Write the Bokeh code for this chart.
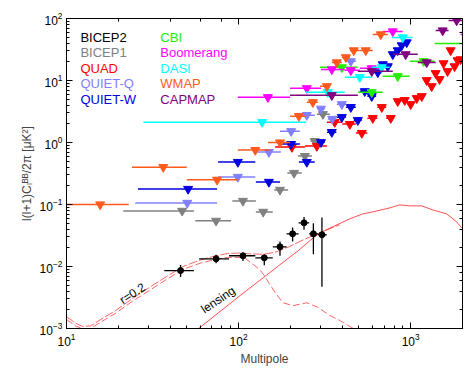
from bokeh.plotting import figure
from bokeh.models import LogAxis, CustomJSTickFormatter
from bokeh.embed import file_html
from bokeh.resources import INLINE
from bokeh.core.properties import value

# ---------------- data ----------------
bicep2_l = [46, 74, 106, 141, 174, 206, 240, 272, 305]
bicep2_lo = [37, 59, 88, 125, 158, 190, 223, 257, 290]
bicep2_hi = [55, 88, 125, 158, 190, 223, 257, 290, 325]
bicep2_v = [0.0086, 0.0133, 0.0149, 0.0138, 0.0208, 0.0337, 0.0506, 0.0337, 0.0325]
bicep2_elo = [0.0068, 0.0113, 0.0123, 0.0105, 0.0149, 0.0252, 0.0391, 0.0158, 0.0047]
bicep2_ehi = [0.0106, 0.0154, 0.0167, 0.0154, 0.0252, 0.0425, 0.0627, 0.0500, 0.0615]

bicep1_l = [47, 74, 106, 139, 174, 210, 243, 277, 309]
bicep1_lo = [21.4, 56, 92, 126, 161, 192, 221, 262, 285]
bicep1_hi = [55, 90.5, 126, 158, 194, 233, 267, 305, 339]
bicep1_ul = [0.0789, 0.0545, 0.114, 0.076, 0.172, 0.322, 0.604, 1.05, 2.86]

quad_l = [204, 285, 362, 443, 520, 602, 679, 766, 841, 923, 1000, 1084, 1159,
          1239, 1324, 1396, 1472, 1553, 1638, 1706, 1799, 1873, 1950]
quad_lo = [163, 243, 326, 400, 480, 560, 640, 720, 805, 880, 960, 1040, 1120,
           1200, 1280, 1350, 1430, 1510, 1590, 1670, 1750, 1830, 1910]
quad_hi = [243, 326, 400, 480, 560, 640, 720, 800, 880, 960, 1040, 1120, 1200,
           1280, 1360, 1440, 1520, 1600, 1680, 1760, 1840, 1920, 2000]
quad_ul = [0.843, 0.875, 2.13, 1.98, 1.42, 2.47, 3.71, 2.47, 4.63, 4.81, 4.14, 5.18, 5.57,
           10.1, 8.07, 13.1, 10.5, 18.9, 14.1, 30.6, 16.9, 21.1, 21.9]

quietq_l = [50.3, 99, 150, 202, 249, 301, 350, 398, 449]
quietq_lo = [25.1, 76, 128, 174, 227, 285, 330, 372, 420]
quietq_hi = [75, 125, 176, 227, 277, 317, 370, 420, 480]
quietq_ul = [0.106, 0.278, 0.70, 1.52, 2.76, 3.5, 2.4, 4.14, 20.4]

quietw_l = [50.9, 99, 150, 202, 249, 301, 348, 398, 449, 493, 541, 594, 644, 688,
            736, 787, 841, 887, 948]
quietw_lo = [26, 76, 126, 174, 224, 285, 326, 372, 420, 467, 506, 560, 610, 660,
             705, 755, 805, 860, 910]
quietw_hi = [75, 125, 174, 227, 277, 317, 370, 420, 480, 520, 580, 630, 680, 720,
             770, 820, 875, 915, 985]
quietw_ul = [0.178, 0.484, 0.231, 0.942, 0.484, 1.01, 1.47, 2.56, 3.71, 2.29, 6.70,
             5.57, 13.5, 18.2, 16.9, 26.4, 30.6, 36.8, 41.1]

cbi_l = [398, 594, 841, 1189, 2300]
cbi_lo = [297, 493, 688, 987, 1377]
cbi_hi = [493, 688, 987, 1377, 3500]
cbi_ul = [16.3, 6.46, 11.7, 20.4, 39.6]

boom_l = [148, 249, 348, 449, 594, 787, 2100]
boom_lo = [99, 199, 301, 414, 506, 688, 1950]
boom_hi = [199, 301, 414, 506, 688, 899, 2300]
boom_ul = [5.37, 7.5, 15.1, 14.6, 15.7, 61.8, 55]

dasi_l = [137, 330, 506, 679, 899]
dasi_lo = [28, 246, 414, 594, 776]
dasi_hi = [246, 414, 594, 755, 1027]
dasi_ul = [2.13, 6.46, 11.3, 16.3, 49.5]

wmap_l = [15.7, 36.5, 75, 125, 174, 224, 270, 326, 372, 420, 467, 548, 670]
wmap_lo = [2, 24, 50, 99, 148, 199, 249, 297, 348, 398, 443, 506, 602]
wmap_hi = [23, 50, 99, 152, 199, 246, 289, 339, 398, 443, 506, 602, 736]
wmap_ul = [0.10, 0.40, 0.25, 0.755, 1.0, 2.66, 4.46, 8.07, 19.6, 23.6, 30.6, 30.6, 55.3]

capmap_l = [348, 594, 935, 1239, 1534, 1849]
capmap_lo = [199, 493, 787, 1099, 1396, 1660]
capmap_hi = [493, 787, 1099, 1396, 1660, 2100]
capmap_ul = [5.78, 14.1, 26.4, 19.6, 64.1, 92.9]

# theory curves
lens_l = [57.5, 78, 102, 139, 174, 221, 259, 297, 362, 443, 527, 602, 755, 863,
          987, 1159, 1343, 1618, 1849, 1977]
lens_v = [0.00096, 0.00188, 0.0034, 0.0066, 0.0107, 0.0178, 0.026, 0.0349, 0.0453,
          0.0587, 0.0706, 0.076, 0.0881, 0.0986, 0.095, 0.095, 0.0818, 0.0706, 0.0525, 0.042]

tens_l = [10, 11.3, 12.4, 13.8, 15.7, 19.2, 24.4, 30.7, 38.5, 47.6, 59.8, 73, 86,
          108, 133, 142, 163, 181, 207, 249, 289, 339, 387, 464, 506]
tens_v = [0.00140, 0.00110, 0.00098, 0.00100, 0.00125, 0.00175, 0.0028, 0.0042,
          0.0063, 0.0090, 0.0113, 0.0130, 0.0140, 0.0139, 0.0089, 0.0069, 0.0038,
          0.0026, 0.00234, 0.0026, 0.0022, 0.00162, 0.00135, 0.00100, 0.0009]

sum_l = [10, 11.3, 12.4, 13.8, 15.7, 19.2, 24.4, 30.7, 38.5, 47.6, 59.8, 73, 86,
         102, 117, 139, 163, 198, 228, 260, 297, 340, 387]
sum_v = [0.00155, 0.00122, 0.00108, 0.00110, 0.00138, 0.00193, 0.0031, 0.0047,
         0.0070, 0.0100, 0.0127, 0.0148, 0.0162, 0.0165, 0.0160, 0.0157, 0.0170,
         0.0210, 0.0255, 0.0300, 0.0350, 0.0410, 0.0470]

legend_names = ["BICEP2", "BICEP1", "QUAD", "QUIET-Q", "QUIET-W",
                "CBI", "Boomerang", "DASI", "WMAP", "CAPMAP"]
legend_colors = ["#000000", "#808080", "#FF0000", "#8080FF", "#0000E0",
                 "#22EE00", "#FF00FF", "#00FFFF", "#FF5A1E", "#800080"]

FONT = "Liberation Sans"

p = figure(width=464, height=368, x_axis_type="log", y_axis_type="log",
           x_range=(10, 2000), y_range=(1e-3, 1e2),
           output_backend="svg", toolbar_location=None,
           min_border_left=66, min_border_right=2, min_border_top=18,
           min_border_bottom=39)
p.grid.visible = False
p.outline_line_color = "black"
p.background_fill_color = "white"


def style_axis(ax):
    ax.major_tick_in = 6
    ax.major_tick_out = 0
    ax.minor_tick_in = 3
    ax.minor_tick_out = 0
    ax.axis_line_color = "black"
    ax.major_tick_line_color = "black"
    ax.minor_tick_line_color = "black"
    ax.major_label_text_font = FONT
    ax.major_label_text_color = "black"
    ax.major_label_text_font_size = "12px"
    ax.major_label_standoff = 4


style_axis(p.xaxis[0])
style_axis(p.yaxis[0])
p.xaxis.axis_label = "Multipole"
p.yaxis.axis_label = "l(l+1)C\u2097\u1d2e\u1d2e/2\u03c0 [\u03bcK\u00b2]"
for ax in (p.xaxis[0], p.yaxis[0]):
    ax.axis_label_text_font = FONT
    ax.axis_label_text_font_size = "12px"
    ax.axis_label_text_font_style = "normal"
    ax.axis_label_standoff = 3

top = LogAxis(formatter=CustomJSTickFormatter(code="return ''"))
right = LogAxis(formatter=CustomJSTickFormatter(code="return ''"))
for ax in (top, right):
    style_axis(ax)
    ax.major_label_text_font_size = "1px"
    ax.major_label_standoff = 0
p.add_layout(top, "above")
p.add_layout(right, "right")

# curves
curve_col = "#FF3030"
p.line(lens_l, lens_v, line_color=curve_col, line_width=1, line_alpha=0.85)
p.line(tens_l, tens_v, line_color=curve_col, line_width=1, line_alpha=0.75, line_dash="7 3")
p.line(sum_l, sum_v, line_color=curve_col, line_width=1, line_alpha=0.75, line_dash="9 2")

# upper limits
series = [
    (bicep1_l, bicep1_lo, bicep1_hi, bicep1_ul, legend_colors[1]),
    (quad_l, quad_lo, quad_hi, quad_ul, legend_colors[2]),
    (quietq_l, quietq_lo, quietq_hi, quietq_ul, legend_colors[3]),
    (quietw_l, quietw_lo, quietw_hi, quietw_ul, legend_colors[4]),
    (cbi_l, cbi_lo, cbi_hi, cbi_ul, legend_colors[5]),
    (boom_l, boom_lo, boom_hi, boom_ul, legend_colors[6]),
    (dasi_l, dasi_lo, dasi_hi, dasi_ul, legend_colors[7]),
    (wmap_l, wmap_lo, wmap_hi, wmap_ul, legend_colors[8]),
    (capmap_l, capmap_lo, capmap_hi, capmap_ul, legend_colors[9]),
]
for l, lo, hi, ul, c in series:
    p.segment(x0=lo, y0=ul, x1=hi, y1=ul, line_color=c, line_width=1.5)
    p.scatter(l, ul, marker="inverted_triangle", size=9, fill_color=c, line_color=c)

# BICEP2 detections
p.segment(x0=bicep2_lo, y0=bicep2_v, x1=bicep2_hi, y1=bicep2_v, line_color="black", line_width=1.3)
p.segment(x0=bicep2_l, y0=bicep2_elo, x1=bicep2_l, y1=bicep2_ehi, line_color="black", line_width=1.3)
p.scatter(bicep2_l, bicep2_v, marker="circle", size=6, color="black")

# curve annotations
p.text(x=[24.2], y=[0.00366], text=["r=0.2"], angle=33, angle_units="deg",
       text_align="center", text_baseline="middle", text_font=value(FONT),
       text_font_size="12px", text_color="black")
p.text(x=[76], y=[0.0029], text=["lensing"], angle=34, angle_units="deg",
       text_align="center", text_baseline="middle", text_font=value(FONT),
       text_font_size="12px", text_color="black")

# legend (text only, two columns)
col_x = [12.05, 35.1]
row_y = [49.5, 27.9, 15.7, 9.02, 4.99]
lx = [col_x[i // 5] for i in range(10)]
ly = [row_y[i % 5] for i in range(10)]
p.text(x=lx, y=ly, text=legend_names, text_color=legend_colors,
       text_align="left", text_baseline="middle", text_font=value(FONT),
       text_font_size="13px")

open("out.html", "w").write(file_html(p, INLINE))
